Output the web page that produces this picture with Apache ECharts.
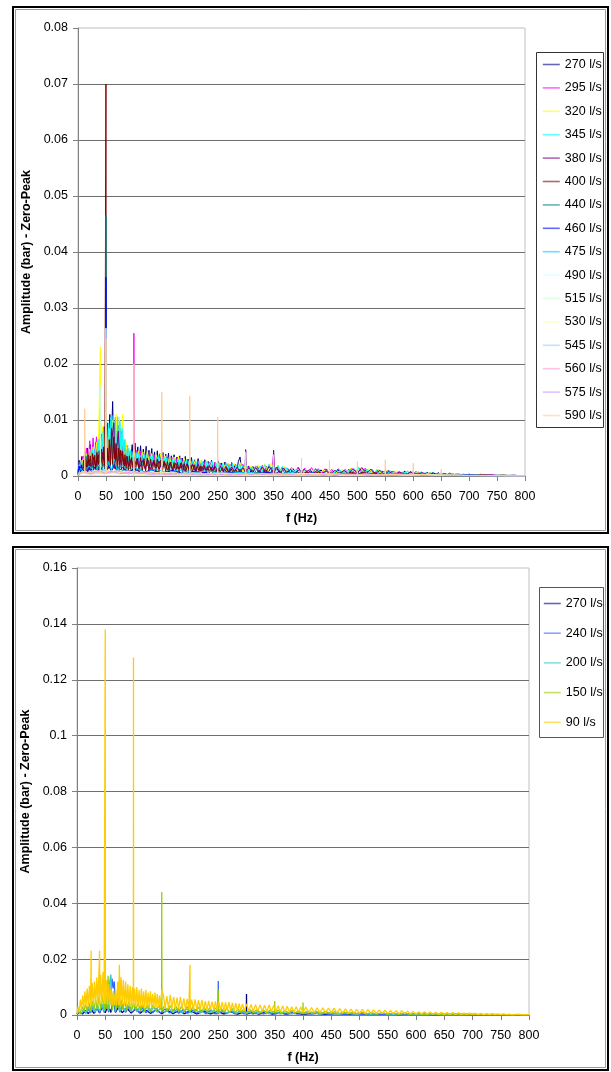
<!DOCTYPE html>
<html>
<head>
<meta charset="utf-8">
<script src="https://cdn.jsdelivr.net/npm/echarts@6/dist/echarts.min.js"></script>
<style>
  html, body { margin: 0; padding: 0; background: #fff; }
  #chart { width: 611px; height: 1072px; }
</style>
</head>
<body>
<div id="chart"></div>
<script>
// spectra: [f (Hz), amplitude in mbar]

// ---- upper chart (270 .. 590 l/s) ----
const upperNames = ['270 l/s', '295 l/s', '320 l/s', '345 l/s', '380 l/s', '400 l/s', '440 l/s', '460 l/s',
  '475 l/s', '490 l/s', '515 l/s', '530 l/s', '545 l/s', '560 l/s', '575 l/s', '590 l/s'];

const up270 = [[0,0.5],[2,2.8],[4,1.2],[7,3.5],[9,1.5],[12,4.2],[14,1.8],[17,5.0],[19,2.0],[22,5.6],[24,2.2],[27,5.2],[29,2.5],[32,6.0],[34,2.4],[37,6.5],[39,2.8],[42,7.5],[44,3.0],[47,8.8],[49,3.2],[52,9.5],[54,3.5],[57,11.0],[59,4.0],[62,13.3],[64,4.2],[67,10.5],[69,3.8],[72,9.0],[74,3.5],[77,8.0],[79,3.0],[82,6.5],[84,2.8],[87,5.5],[89,2.5],[92,5.0],[94,2.4],[97,5.6],[99,2.2],[102,5.9],[104,2.3],[107,5.2],[109,2.2],[112,5.4],[114,2.1],[117,4.8],[119,2.0],[122,5.3],[124,2.0],[127,4.6],[129,1.9],[132,4.9],[134,1.9],[137,4.3],[139,1.8],[142,4.5],[144,1.8],[147,4.0],[149,1.7],[152,4.2],[154,1.7],[157,3.9],[159,1.6],[162,4.1],[164,1.6],[167,3.6],[169,1.5],[172,3.8],[174,1.5],[177,3.4],[179,1.4],[182,3.6],[184,1.4],[187,3.2],[189,1.3],[192,3.5],[194,1.3],[197,3.0],[199,1.2],[203,3.3],[206,1.2],[209,2.9],[212,1.2],[215,3.1],[218,1.1],[221,2.7],[224,1.1],[227,2.9],[230,1.0],[233,2.6],[236,1.0],[239,2.8],[242,1.0],[245,2.4],[248,0.9],[251,2.6],[254,0.9],[257,2.3],[260,0.9],[263,2.5],[266,0.8],[269,2.2],[272,0.8],[275,2.4],[278,0.8],[281,2.1],[284,0.8],[287,2.6],[290,3.4],[293,0.8],[296,1.9],[299,0.8],[300,4.7],[301,0.8],[305,1.8],[309,0.7],[313,1.7],[317,0.7],[321,1.8],[325,0.7],[329,1.6],[333,0.7],[337,1.7],[341,0.7],[345,1.6],[349,0.7],[350,4.6],[351,0.7],[355,1.6],[360,0.6],[365,1.5],[370,0.6],[375,1.4],[380,0.5],[385,1.3],[390,0.5],[395,1.4],[400,0.5],[405,1.3],[410,0.5],[415,1.2],[420,0.5],[425,1.3],[430,0.5],[435,1.1],[440,0.4],[445,1.2],[450,0.4],[455,1.1],[460,0.4],[465,1.2],[470,0.4],[475,1.0],[480,0.4],[485,1.2],[490,0.4],[495,1.1],[500,0.4],[505,1.3],[510,0.4],[515,1.1],[520,0.4],[525,1.0],[530,0.3],[535,1.1],[540,0.3],[545,0.9],[550,0.3],[555,1.0],[560,0.3],[565,0.9],[570,0.3],[575,0.8],[580,0.3],[585,0.9],[590,0.3],[595,0.8],[600,0.3],[605,0.8],[610,0.3],[615,0.7],[620,0.2],[625,0.7],[630,0.2],[635,0.6],[640,0.2],[645,0.6],[650,0.2],[655,0.5],[660,0.2],[665,0.5],[670,0.2],[680,0.4],[690,0.1],[700,0.3],[710,0.1],[720,0.3],[730,0.1],[740,0.2],[750,0.1],[760,0.2],[770,0.1],[780,0.15],[790,0.05],[800,0.1]];
const up295 = [[0,0.5],[3,2.5],[6,1.2],[9,3.5],[12,1.5],[15,5.0],[18,2.0],[21,6.3],[24,2.2],[27,6.8],[30,2.4],[33,7.0],[36,2.5],[39,6.0],[42,2.6],[45,6.5],[48,2.8],[51,7.5],[54,3.0],[57,8.0],[60,3.0],[63,9.0],[66,3.0],[69,7.0],[72,2.8],[75,8.5],[78,2.5],[81,5.5],[84,2.2],[88,4.8],[92,2.0],[96,4.5],[99.5,2.0],[100,25.5],[100.5,2.0],[104,4.6],[108,1.9],[112,4.4],[116,1.8],[120,4.0],[124,1.8],[128,4.2],[132,1.7],[136,3.8],[140,1.7],[144,3.6],[148,1.6],[152,3.7],[156,1.5],[160,3.4],[164,1.5],[168,3.3],[172,1.4],[176,3.1],[180,1.4],[185,3.2],[190,1.3],[195,2.9],[200,1.3],[205,2.8],[210,1.2],[215,2.7],[220,1.1],[225,2.6],[230,1.1],[235,2.5],[240,1.0],[245,2.4],[250,1.0],[255,2.3],[260,0.9],[265,2.2],[270,0.9],[275,2.3],[280,0.8],[285,2.0],[290,0.8],[295,2.1],[299.5,0.8],[300,4.5],[300.5,0.8],[306,1.7],[312,0.7],[318,1.8],[324,0.7],[330,1.9],[336,0.7],[342,2.0],[348,0.7],[350,4.0],[352,0.7],[358,1.8],[364,0.6],[370,1.6],[376,0.6],[382,1.5],[388,0.5],[394,1.6],[400,0.5],[406,1.4],[412,0.5],[418,1.5],[424,0.5],[430,1.3],[436,0.4],[442,1.3],[448,0.4],[454,1.2],[460,0.4],[466,1.3],[472,0.4],[478,1.2],[484,0.4],[490,1.4],[496,0.5],[502,1.5],[508,0.5],[514,1.4],[520,0.4],[526,1.2],[532,0.4],[538,1.1],[544,0.4],[550,1.0],[556,0.3],[562,0.9],[568,0.3],[574,0.9],[580,0.3],[590,0.8],[600,0.3],[610,0.7],[620,0.2],[630,0.6],[640,0.2],[650,0.5],[660,0.2],[670,0.4],[680,0.1],[700,0.3],[720,0.1],[740,0.2],[760,0.05],[780,0.1],[800,0.03]];
const up320 = [[0,0.4],[3,2.0],[6,1.0],[9,3.0],[12,1.4],[15,4.0],[18,1.8],[21,4.8],[24,2.0],[27,5.2],[30,2.2],[33,6.0],[36,2.4],[39.5,2.5],[40,23.0],[40.5,2.6],[44,9.0],[47,2.8],[50,12.0],[53,3.0],[56,8.5],[59,3.0],[62,10.0],[65,3.2],[68,11.0],[71,3.0],[74,10.5],[77,3.0],[80,11.0],[83,2.6],[86,6.0],[89,2.3],[92,5.0],[96,2.1],[100,4.8],[104,2.0],[108,4.5],[112,1.9],[116,4.3],[120,1.8],[124,4.6],[128,1.7],[132,4.0],[136,1.7],[140,3.8],[144,1.6],[148,4.0],[152,1.6],[156,3.6],[160,1.5],[164,3.5],[168,1.5],[172,3.4],[176,1.4],[180,3.5],[185,1.4],[190,3.2],[195,1.3],[200,3.0],[205,1.2],[210,2.9],[215,1.2],[220,2.8],[225,1.1],[230,2.7],[235,1.1],[240,2.6],[245,1.0],[250,2.5],[255,1.0],[260,2.4],[265,0.9],[270,2.3],[275,0.9],[280,2.2],[285,0.8],[290,2.4],[295,0.8],[300,2.0],[305,0.8],[310,1.9],[316,0.7],[322,2.0],[328,0.7],[334,2.2],[340,0.8],[346,2.3],[352,0.8],[358,2.0],[364,0.7],[370,1.7],[376,0.6],[382,1.4],[388,0.6],[394,1.2],[400,0.5],[408,1.2],[416,0.5],[424,1.1],[432,0.5],[440,1.1],[448,0.5],[456,1.2],[464,0.5],[472,1.2],[480,0.5],[488,1.4],[496,0.6],[504,1.6],[512,0.6],[520,1.3],[528,0.5],[536,1.1],[544,0.4],[552,1.0],[560,0.4],[570,0.9],[580,0.4],[590,0.9],[600,0.3],[610,0.8],[620,0.3],[630,0.6],[640,0.2],[650,0.5],[660,0.2],[680,0.4],[700,0.1],[720,0.25],[740,0.1],[760,0.15],[780,0.05],[800,0.05]];
const up345 = [[0,0.3],[2,2.0],[4,1.0],[6,2.8],[8,1.2],[11,3.4],[13,1.4],[16,3.8],[18,1.5],[21,4.3],[23,1.6],[26,4.8],[28,1.8],[31,5.0],[33,2.0],[36,6.5],[38,2.2],[40,12.0],[42,2.5],[45,8.0],[47,2.5],[50,8.5],[52,2.8],[55,9.5],[57,3.0],[59,10.5],[61,3.2],[63,10.8],[65,3.2],[67,10.2],[69,3.0],[71,10.6],[73,3.0],[75,9.8],[77,2.8],[79,8.5],[81,2.6],[84,6.5],[86,2.4],[89,5.5],[91,2.2],[94,4.6],[96,2.0],[99,4.4],[101,2.0],[104,4.2],[106,1.9],[109,4.0],[111,1.9],[114,4.1],[116,1.8],[119,3.8],[121,1.8],[124,3.9],[126,1.7],[129,3.6],[131,1.7],[134,3.7],[136,1.6],[139,3.5],[141,1.6],[144,3.6],[146,1.5],[149,3.3],[151,1.5],[154,3.4],[156,1.5],[159,3.2],[161,1.4],[164,3.3],[166,1.4],[169,3.0],[171,1.4],[174,3.1],[176,1.3],[179,2.9],[181,1.3],[184,3.0],[186,1.3],[189,2.8],[191,1.2],[194,2.9],[196,1.2],[199,2.7],[202,1.2],[205,2.8],[208,1.1],[211,2.6],[214,1.1],[217,2.7],[220,1.1],[223,2.5],[226,1.0],[229,2.6],[232,1.0],[235,2.4],[238,1.0],[241,2.5],[244,1.0],[247,2.3],[250,0.9],[253,2.4],[256,0.9],[259,2.2],[262,0.9],[265,2.3],[268,0.9],[271,2.1],[274,0.9],[277,2.2],[280,0.8],[283,2.0],[286,0.8],[289,2.1],[292,0.8],[295,1.9],[298,0.8],[302,1.7],[306,0.7],[310,1.6],[314,0.7],[318,1.7],[322,0.8],[326,1.8],[330,0.8],[334,2.0],[338,0.8],[342,2.1],[346,0.8],[350,2.0],[354,0.8],[358,1.9],[362,0.7],[366,1.7],[370,0.7],[374,1.5],[378,0.6],[382,1.3],[386,0.6],[390,1.2],[394,0.5],[398,1.1],[402,0.5],[406,1.0],[410,0.5],[414,1.1],[418,0.5],[422,1.0],[426,0.5],[430,1.0],[434,0.5],[438,0.9],[442,0.5],[446,1.0],[450,0.5],[454,0.9],[458,0.5],[462,1.0],[466,0.5],[470,1.0],[474,0.5],[478,1.1],[482,0.5],[486,1.2],[490,0.6],[494,1.3],[498,0.6],[502,1.4],[506,0.6],[510,1.3],[514,0.5],[518,1.2],[522,0.5],[526,1.1],[530,0.5],[534,1.0],[538,0.5],[542,1.0],[546,0.4],[550,0.9],[554,0.4],[558,1.0],[562,0.4],[566,0.9],[570,0.4],[574,0.9],[578,0.4],[582,0.8],[586,0.4],[590,0.9],[594,0.4],[598,0.8],[602,0.3],[606,0.8],[610,0.3],[614,0.7],[618,0.3],[622,0.7],[626,0.3],[630,0.6],[634,0.3],[638,0.6],[642,0.2],[646,0.5],[650,0.2],[655,0.4],[660,0.2],[665,0.4],[670,0.1],[675,0.3],[680,0.1],[690,0.3],[700,0.1],[710,0.2],[720,0.1],[730,0.2],[740,0.05],[750,0.15],[760,0.05],[770,0.1],[780,0.05],[790,0.08],[800,0.03]];
const up380 = [[0,0.3],[4,1.5],[8,0.8],[12,2.5],[16,1.0],[20,3.0],[24,1.2],[28,3.4],[32,1.4],[36,3.8],[40,1.5],[44,4.2],[48,1.6],[52,5.0],[56,1.8],[60,6.0],[64,9.5],[66,2.0],[70,5.5],[72,8.0],[75,2.0],[79,4.5],[83,1.8],[87,3.5],[91,1.6],[95,3.0],[100,1.4],[105,3.0],[110,1.3],[115,2.8],[120,1.3],[125,2.9],[130,1.2],[135,2.6],[140,1.2],[145,2.7],[150,1.1],[155,2.5],[160,1.1],[165,2.4],[170,1.0],[175,2.3],[180,1.0],[185,2.4],[190,0.9],[195,2.2],[200,0.9],[205,2.1],[210,0.9],[215,2.2],[220,0.8],[225,2.0],[230,0.8],[235,1.9],[240,0.8],[245,1.8],[250,0.7],[255,1.8],[260,0.7],[265,1.7],[270,0.7],[275,1.6],[280,0.7],[285,1.6],[290,0.6],[295,1.5],[300,0.6],[306,1.5],[312,0.6],[318,1.5],[324,0.6],[330,1.6],[336,0.6],[342,1.7],[349.5,0.6],[350,4.5],[350.5,0.6],[356,1.6],[362,0.5],[368,1.4],[374,0.5],[380,1.2],[388,0.5],[396,1.1],[404,0.4],[412,1.0],[420,0.4],[428,1.0],[436,0.4],[444,0.9],[452,0.4],[460,1.0],[468,0.4],[476,1.0],[484,0.4],[492,1.3],[500,0.5],[508,1.5],[516,0.5],[524,1.2],[532,0.4],[540,1.0],[548,0.3],[556,0.8],[566,0.3],[576,0.7],[586,0.3],[596,0.7],[606,0.2],[616,0.6],[626,0.2],[636,0.5],[646,0.2],[656,0.4],[670,0.1],[690,0.3],[710,0.1],[730,0.2],[750,0.05],[770,0.1],[800,0.03]];
const up400 = [[0,0.2],[2,1.2],[4,0.5],[6,1.8],[8,0.7],[10,2.8],[12,0.8],[14,3.5],[16,0.9],[18,3.8],[20,1.0],[22,3.6],[24,1.0],[26,4.0],[28,1.0],[30,3.7],[32,1.1],[34,4.2],[36,1.1],[38,4.5],[40,1.2],[42,4.8],[44,1.2],[46,5.2],[48,1.3],[49.5,1.3],[50,70.0],[50.5,1.3],[52,5.0],[54,1.3],[56,6.5],[58,1.4],[60,8.5],[62,1.4],[64,7.0],[66,1.3],[68,5.8],[70,1.3],[72,5.0],[74,1.2],[76,4.6],[78,1.2],[80,4.2],[82,1.1],[84,3.8],[86,1.1],[88,3.5],[90,1.0],[92,3.6],[94,1.0],[96,3.3],[98,1.0],[100,3.4],[103,1.0],[106,3.2],[109,0.9],[112,3.3],[115,0.9],[118,3.1],[121,0.9],[124,3.2],[127,0.9],[130,3.0],[133,0.9],[136,2.9],[139,0.8],[142,3.0],[145,0.8],[148,2.8],[151,0.8],[154,2.7],[157,0.8],[160,2.6],[163,0.8],[166,2.5],[169,0.8],[172,2.4],[175,0.7],[178,2.4],[181,0.7],[184,2.3],[187,0.7],[190,2.2],[193,0.7],[196,2.1],[199,0.7],[202,2.0],[205,0.7],[208,2.0],[211,0.6],[214,1.9],[217,0.6],[220,1.8],[223,0.6],[226,1.8],[229,0.6],[232,1.7],[235,0.6],[238,1.6],[241,0.6],[244,1.6],[247,0.5],[250,1.5],[254,0.5],[258,1.4],[262,0.5],[266,1.4],[270,0.5],[274,1.3],[278,0.5],[282,1.2],[286,0.5],[290,1.2],[295,0.4],[300,1.1],[306,0.4],[312,1.0],[318,0.4],[324,1.0],[330,0.4],[336,1.1],[342,0.4],[348,1.0],[354,0.4],[360,0.9],[368,0.3],[376,0.9],[384,0.3],[392,0.8],[400,0.3],[410,0.7],[420,0.3],[430,0.7],[440,0.3],[450,0.6],[460,0.3],[470,0.6],[480,0.3],[490,0.7],[500,0.3],[510,0.7],[520,0.3],[530,0.6],[540,0.2],[550,0.5],[560,0.2],[575,0.5],[590,0.2],[605,0.4],[620,0.2],[635,0.3],[650,0.1],[670,0.25],[690,0.1],[720,0.15],[750,0.05],[780,0.08],[800,0.02]];
const up440 = [[0,0.2],[5,1.2],[10,0.6],[15,1.6],[20,0.7],[25,1.8],[30,0.8],[35,2.0],[40,0.8],[45,2.2],[49.5,0.9],[50,46.6],[50.5,0.9],[55,2.2],[60,0.9],[65,2.4],[70,0.8],[75,2.0],[80,0.8],[90,1.6],[100,0.7],[110,1.4],[120,0.6],[135,1.2],[150,0.5],[165,1.1],[180,0.5],[200,1.0],[220,0.4],[240,0.9],[260,0.4],[280,0.8],[300,0.3],[330,0.7],[360,0.3],[400,0.5],[440,0.2],[480,0.5],[520,0.2],[560,0.4],[600,0.15],[650,0.3],[700,0.1],[750,0.1],[800,0.02]];
const up460 = [[0,0.5],[2,1.8],[4,0.8],[6,2.0],[8,0.6],[12,1.4],[16,0.6],[20,1.5],[25,0.6],[30,1.6],[35,0.7],[40,1.8],[45,0.7],[49.5,0.8],[50,35.5],[50.5,0.8],[55,1.8],[60,0.7],[65,2.0],[70,0.7],[80,1.5],[90,0.6],[100,1.3],[115,0.5],[130,1.1],[150,0.5],[170,1.0],[190,0.4],[210,0.9],[240,0.4],[270,0.7],[300,0.3],[340,0.6],[380,0.3],[420,0.5],[460,0.2],[500,0.5],[540,0.2],[580,0.4],[620,0.1],[670,0.25],[720,0.1],[800,0.02]];
const up475 = [[0,0.3],[5,1.4],[10,0.6],[20,1.8],[30,0.8],[40,2.4],[45,1.0],[49.5,1.0],[50,20.0],[50.5,1.0],[55,2.6],[60,1.0],[65,3.0],[70,1.0],[80,2.0],[90,0.8],[100,1.6],[120,0.6],[140,1.3],[160,0.5],[180,1.1],[200,0.5],[230,0.9],[260,0.4],[300,0.7],[340,0.3],[380,0.6],[420,0.3],[470,0.5],[520,0.2],[570,0.4],[620,0.1],[680,0.2],[740,0.05],[800,0.02]];
const up490 = [[0,0.2],[10,0.8],[20,0.4],[30,1.0],[40,0.5],[49.5,0.5],[50,26.4],[50.5,0.5],[60,1.0],[70,0.5],[90,0.8],[120,0.4],[160,0.6],[200,0.3],[260,0.5],[320,0.2],[400,0.4],[480,0.2],[560,0.3],[650,0.1],[800,0.02]];
const up515 = [[0,0.2],[10,0.8],[20,0.4],[30,1.0],[39.5,0.5],[40,16.0],[40.5,0.5],[50,1.0],[60,0.5],[75,0.9],[100,0.4],[140,0.6],[200,0.3],[260,0.5],[330,0.2],[420,0.4],[500,0.2],[580,0.3],[680,0.1],[800,0.02]];
const up530 = [[0,0.2],[10,0.7],[20,0.3],[30,0.9],[40,0.4],[50,1.0],[60,0.4],[80,0.8],[110,0.3],[150,0.6],[200,0.3],[260,0.5],[330,0.2],[420,0.4],[500,0.2],[600,0.3],[700,0.1],[800,0.02]];
const up545 = [[0,0.2],[8,0.9],[16,0.4],[26,1.0],[36,0.4],[46,1.1],[56,0.5],[70,1.0],[90,0.4],[120,0.7],[160,0.3],[210,0.5],[270,0.2],[340,0.4],[420,0.2],[510,0.3],[600,0.1],[700,0.1],[800,0.02]];
const up560 = [[0,0.2],[10,0.8],[20,0.4],[35,1.0],[50,0.5],[70,0.9],[90,0.4],[120,0.6],[160,0.3],[210,0.5],[270,0.2],[340,0.4],[430,0.2],[520,0.3],[620,0.1],[720,0.1],[800,0.02]];
const up575 = [[0,0.2],[12,0.8],[24,0.3],[36,0.9],[48,0.4],[60,0.9],[75,0.4],[95,0.7],[130,0.3],[170,0.5],[220,0.2],[290,0.4],[370,0.2],[460,0.3],[560,0.1],[680,0.1],[800,0.02]];
const up590 = [[0,0.2],[3,0.8],[6,0.3],[9,0.9],[11.5,0.4],[12,12.0],[12.5,0.4],[15,0.9],[18,0.3],[21,1.0],[24,0.4],[27,0.9],[30,0.3],[33,1.0],[36,0.4],[39,0.9],[42,0.4],[45,1.0],[49.5,0.4],[50,24.5],[50.5,0.4],[54,1.0],[58,0.4],[62,1.0],[66,0.4],[70,0.9],[74,0.4],[78,0.9],[82,0.3],[86,0.9],[90,0.3],[94,0.8],[99.5,0.3],[100,20.0],[100.5,0.3],[105,0.8],[110,0.3],[115,0.8],[120,0.3],[125,0.7],[130,0.3],[135,0.8],[140,0.3],[145,0.7],[149.5,0.3],[150,15.0],[150.5,0.3],[155,0.7],[160,0.3],[165,0.7],[170,0.3],[175,0.7],[180,0.3],[185,0.6],[190,0.3],[195,0.6],[199.5,0.3],[200,14.3],[200.5,0.3],[205,0.6],[212,0.2],[219,0.6],[226,0.2],[233,0.6],[240,0.2],[245,0.5],[249.5,0.2],[250,10.5],[250.5,0.2],[256,0.5],[264,0.2],[272,0.5],[280,0.2],[288,0.5],[299.5,0.2],[300,4.2],[300.5,0.2],[310,0.5],[320,0.2],[330,0.5],[340,0.2],[349.5,0.2],[350,3.8],[350.5,0.2],[360,0.4],[370,0.2],[380,0.4],[399.5,0.2],[400,3.2],[400.5,0.2],[410,0.4],[425,0.2],[440,0.4],[449.5,0.2],[450,2.8],[450.5,0.2],[465,0.4],[480,0.2],[499.5,0.2],[500,2.6],[500.5,0.2],[515,0.4],[530,0.2],[549.5,0.2],[550,2.9],[550.5,0.2],[565,0.3],[580,0.1],[599.5,0.1],[600,2.3],[600.5,0.1],[620,0.3],[635,0.1],[649.5,0.1],[650,1.2],[650.5,0.1],[675,0.2],[700,0.05],[730,0.1],[760,0.05],[800,0.02]];

// ---- lower chart (270 .. 90 l/s) ----
const lowerNames = ['270 l/s', '240 l/s', '200 l/s', '150 l/s', '90 l/s'];

const lo270 = [[0,0.3],[5,1.0],[10,0.4],[15,1.5],[20,0.5],[25,2.0],[30,0.6],[35,2.5],[40,0.7],[45,3.0],[50,0.8],[55,3.5],[60,0.9],[64,6.0],[68,0.9],[74,3.0],[80,0.8],[88,2.5],[96,0.7],[104,2.2],[112,0.6],[120,2.0],[130,0.6],[140,1.8],[150,0.5],[160,1.7],[170,0.5],[180,1.6],[190,0.5],[200,1.5],[212,0.4],[224,1.4],[236,0.4],[248,1.3],[260,0.4],[272,1.2],[284,0.3],[296,1.1],[299.8,0.3],[300,7.5],[300.2,0.3],[310,1.0],[322,0.3],[334,1.0],[346,0.3],[358,0.9],[370,0.3],[385,0.8],[400,0.2],[420,0.7],[440,0.2],[460,0.6],[480,0.2],[500,0.6],[520,0.2],[545,0.5],[570,0.1],[600,0.4],[630,0.1],[670,0.3],[710,0.1],[760,0.1],[800,0.02]];
const lo240 = [[0,0.3],[4,1.2],[8,0.5],[12,1.8],[16,0.6],[20,2.2],[24,0.7],[28,2.6],[32,0.8],[36,3.0],[40,0.9],[44,3.4],[48,1.0],[52,3.8],[56,1.0],[60,8.0],[62,13.0],[64,9.5],[66,12.0],[68,1.1],[72,4.0],[76,1.0],[80,3.4],[86,0.9],[92,3.0],[98,0.9],[104,2.8],[110,0.8],[116,2.6],[122,0.8],[128,2.4],[134,0.8],[140,2.3],[148,0.7],[156,2.2],[164,0.7],[172,2.0],[180,0.6],[188,1.9],[196,0.6],[204,1.8],[212,0.6],[220,1.7],[228,0.5],[236,1.6],[244,0.5],[249.8,0.5],[250,12.2],[250.2,0.5],[256,1.5],[264,0.5],[272,1.4],[280,0.4],[288,1.3],[296,0.4],[304,1.2],[312,0.4],[320,1.2],[330,0.4],[340,1.1],[350,0.3],[360,1.0],[370,0.3],[380,1.0],[390,0.3],[400,0.9],[415,0.3],[430,0.8],[445,0.2],[460,0.7],[475,0.2],[490,0.7],[505,0.2],[520,0.6],[540,0.2],[560,0.5],[580,0.1],[600,0.4],[630,0.1],[660,0.3],[700,0.1],[750,0.1],[800,0.02]];
const lo200 = [[0,0.3],[4,1.5],[8,0.6],[12,2.2],[16,0.8],[20,2.8],[24,1.0],[28,3.2],[32,1.1],[36,3.6],[40,1.2],[44,4.0],[48,1.3],[52,4.8],[56,1.4],[58,12.0],[60,14.5],[62,1.5],[65,8.5],[68,1.4],[72,5.0],[76,1.3],[80,4.2],[85,1.2],[90,3.8],[95,1.2],[100,3.5],[106,1.1],[112,3.2],[118,1.0],[124,3.0],[130,1.0],[136,2.8],[142,0.9],[148,2.6],[155,0.9],[162,2.5],[170,0.8],[178,2.3],[186,0.8],[194,2.2],[202,0.7],[210,2.0],[218,0.7],[226,1.9],[234,0.7],[242,1.8],[250,0.6],[258,1.7],[266,0.6],[274,1.6],[282,0.6],[290,1.5],[300,0.5],[310,1.4],[320,0.5],[330,1.3],[340,0.5],[350,1.3],[360,0.4],[370,1.2],[380,0.4],[390,1.1],[400,0.4],[415,1.0],[430,0.3],[445,0.9],[460,0.3],[475,0.8],[490,0.3],[505,0.8],[520,0.2],[540,0.7],[560,0.2],[580,0.6],[600,0.2],[625,0.4],[650,0.1],[680,0.3],[710,0.1],[750,0.1],[800,0.02]];
const lo150 = [[0,0.3],[3,2.0],[6,0.8],[9,3.0],[12,1.2],[15,3.8],[18,1.5],[21,4.5],[24,1.6],[27,5.0],[30,1.8],[33,5.5],[36,1.9],[39,6.5],[42,2.0],[45,7.0],[48,2.1],[51,8.0],[53,2.2],[55,14.0],[57,2.2],[60,9.0],[63,2.1],[66,7.0],[69,2.0],[72,6.0],[75,2.0],[78,5.5],[81,1.9],[84,5.0],[88,1.8],[92,4.8],[96,1.7],[100,4.5],[104,1.7],[108,4.3],[112,1.6],[116,4.0],[120,1.6],[125,3.8],[130,1.5],[135,3.7],[140,1.5],[145,3.5],[149.8,1.5],[150,44.0],[150.1,33.0],[150.3,1.5],[155,3.4],[160,1.4],[165,3.3],[170,1.4],[175,3.2],[180,1.3],[185,3.1],[190,1.3],[195,3.0],[200,1.2],[205,2.9],[210,1.2],[215,2.8],[220,1.1],[225,2.7],[230,1.1],[235,2.6],[240,1.0],[245,2.6],[249.8,1.0],[250,9.0],[250.2,1.0],[255,2.5],[260,1.0],[265,2.4],[270,0.9],[275,2.3],[280,0.9],[285,2.2],[290,0.9],[295,2.1],[300,0.8],[306,2.0],[312,0.8],[318,1.9],[324,0.8],[330,1.8],[336,0.7],[342,1.8],[349.8,0.7],[350,5.0],[350.2,0.7],[356,1.7],[362,0.7],[368,1.6],[374,0.6],[380,1.6],[386,0.6],[392,1.5],[399.8,0.6],[400,4.5],[400.2,0.6],[408,1.4],[416,0.5],[424,1.3],[432,0.5],[440,1.3],[448,0.5],[456,1.2],[464,0.4],[472,1.1],[480,0.4],[488,1.0],[496,0.4],[504,1.0],[512,0.3],[520,0.9],[530,0.3],[540,0.8],[550,0.3],[560,0.7],[570,0.2],[580,0.7],[590,0.2],[600,0.6],[615,0.2],[630,0.5],[645,0.1],[660,0.4],[680,0.1],[700,0.3],[720,0.1],[740,0.2],[760,0.05],[780,0.1],[800,0.02]];
const lo90 = [[0,0.5],[2,3.0],[4,1.0],[6,5.5],[8,2.0],[10,7.0],[12,2.5],[14,8.5],[16,3.0],[18,9.5],[20,3.2],[22,10.5],[24,3.5],[24.8,3.5],[25,23.0],[25.2,3.5],[27,11.5],[29,3.6],[31,12.0],[33,3.8],[35,13.5],[37,3.8],[39.8,4.0],[40,23.0],[40.2,4.0],[42,14.5],[44,4.0],[46,15.5],[48,4.0],[49.8,4.0],[50,138.0],[50.1,92.0],[50.3,4.0],[52,12.5],[54,3.8],[56,11.0],[58,3.5],[60,9.5],[62,3.4],[64,8.5],[66,3.4],[68,9.0],[70,3.5],[72,12.0],[74,3.6],[75,18.0],[76,3.6],[78,13.5],[80,3.5],[82,12.5],[84,3.4],[86,12.0],[88,3.3],[90,11.0],[92,3.2],[94,10.5],[96,3.1],[98,10.0],[99.8,3.0],[100,128.0],[100.2,3.0],[102,9.5],[104,3.0],[106,10.0],[108,2.9],[110,9.0],[112,2.9],[114,9.5],[116,2.8],[118,8.5],[120,2.8],[122,9.0],[124,2.7],[126,8.0],[128,2.7],[130,8.5],[132,2.6],[134,7.5],[136,2.6],[138,8.0],[140,2.5],[142,7.5],[144,2.5],[146,7.0],[148,2.5],[150,9.0],[153,7.0],[156,2.4],[159,6.8],[162,2.4],[165,7.2],[168,2.3],[171,6.5],[174,2.3],[177,6.2],[180,2.2],[183,6.5],[186,2.2],[189,6.0],[192,2.1],[195,5.8],[198,2.1],[199.8,2.1],[200,18.0],[200.2,2.0],[203,5.5],[206,2.0],[209,5.6],[212,2.0],[215,5.3],[218,1.9],[221,5.4],[224,1.9],[227,5.0],[230,1.8],[233,5.1],[236,1.8],[239,4.8],[242,1.8],[245,4.9],[248,1.7],[251,4.7],[254,1.7],[257,4.6],[260,1.6],[263,4.5],[266,1.6],[269,4.6],[272,1.6],[275,4.3],[278,1.5],[281,4.2],[284,1.5],[287,4.1],[290,1.5],[293,4.0],[296,1.4],[300,4.0],[304,1.4],[308,3.8],[312,1.3],[316,3.7],[320,1.3],[324,3.6],[328,1.3],[332,3.5],[336,1.2],[340,3.6],[344,1.2],[348,3.4],[352,1.2],[356,3.3],[360,1.1],[364,3.2],[368,1.1],[372,3.1],[376,1.0],[380,3.0],[384,1.0],[388,3.0],[392,1.0],[396,2.9],[400,0.9],[405,2.8],[410,0.9],[415,2.7],[420,0.9],[425,2.6],[430,0.8],[435,2.6],[440,0.8],[445,2.5],[450,0.8],[455,2.4],[460,0.7],[465,2.3],[470,0.7],[475,2.2],[480,0.7],[485,2.1],[490,0.6],[495,2.0],[500,0.6],[505,2.0],[510,0.6],[515,1.9],[520,0.5],[525,1.8],[530,0.5],[535,1.8],[540,0.5],[545,1.7],[550,0.5],[555,1.6],[560,0.4],[565,1.5],[570,0.4],[575,1.5],[580,0.4],[585,1.4],[590,0.4],[595,1.3],[600,0.3],[605,1.2],[610,0.3],[615,1.2],[620,0.3],[625,1.1],[630,0.3],[635,1.0],[640,0.3],[645,1.0],[650,0.2],[655,0.9],[660,0.2],[665,0.9],[670,0.2],[675,0.8],[680,0.2],[685,0.7],[690,0.2],[695,0.7],[700,0.2],[705,0.6],[710,0.1],[715,0.6],[720,0.1],[725,0.5],[730,0.1],[735,0.5],[740,0.1],[745,0.4],[750,0.1],[755,0.4],[760,0.1],[765,0.3],[770,0.05],[780,0.3],[790,0.05],[800,0.1]];

const upperData = [up270, up295, up320, up345, up380, up400, up440, up460, up475, up490, up515, up530, up545, up560, up575, up590];
const lowerData = [lo270, lo240, lo200, lo150, lo90];

const upperColors = ['#000080', '#FF00FF', '#FFFF00', '#00FFFF', '#800080', '#800000', '#008080', '#0000FF',
  '#00CCFF', '#CCFFFF', '#CCFFCC', '#FFFF99', '#99CCFF', '#FF99CC', '#CC99FF', '#FFCC99'];
const lowerColors = ['#000080', '#3366FF', '#33CCCC', '#99CC00', '#FFCC00'];

const FONT = 'Liberation Sans';
const labelFmt = (v) => String(+v.toFixed(2));

function buildSeries(list, names, colors, idx, width) {
  return list.map((pts, i) => ({
    name: names[i],
    type: 'line',
    xAxisIndex: idx,
    yAxisIndex: idx,
    data: pts.map(([f, a]) => [f, a / 1000]),
    symbol: 'none',
    silent: true,
    lineStyle: { width: width, color: colors[i] },
    itemStyle: { color: colors[i] }
  }));
}

function xAxisOpt(idx) {
  return {
    type: 'value', gridIndex: idx, min: 0, max: 800, interval: 50,
    name: 'f (Hz)', nameLocation: 'middle', nameGap: 36,
    nameTextStyle: { fontFamily: FONT, fontSize: 12.5, fontWeight: 'bold', color: '#000' },
    axisLine: { show: true, lineStyle: { color: '#808080', width: 1 } },
    axisTick: { show: true, length: 5, lineStyle: { color: '#808080' } },
    axisLabel: { fontFamily: FONT, fontSize: 12.5, color: '#000', margin: 14 },
    splitLine: { show: false }
  };
}

function yAxisOpt(idx, max, step) {
  return {
    type: 'value', gridIndex: idx, min: 0, max: max, interval: step,
    name: 'Amplitude (bar) - Zero-Peak', nameLocation: 'middle', nameGap: 35,
    nameTextStyle: { fontFamily: FONT, fontSize: 12.5, fontWeight: 'bold', color: '#000' },
    axisLine: { show: true, lineStyle: { color: '#808080', width: 1 } },
    axisTick: { show: true, length: 5, lineStyle: { color: '#808080' } },
    axisLabel: { fontFamily: FONT, fontSize: 12.5, color: '#000', margin: 10, formatter: labelFmt },
    splitLine: { show: true, showMaxLine: false, lineStyle: { color: '#6e6e6e', width: 1 } }
  };
}

function legendOpt(names, left, top, padding, gap) {
  return {
    orient: 'vertical', left: left, top: top, padding: padding,
    itemWidth: 17, itemHeight: 12, itemGap: gap,
    data: names, selectedMode: false,
    itemStyle: { opacity: 0 },
    lineStyle: { width: 1.6, opacity: 0.6 },
    textStyle: { fontFamily: FONT, fontSize: 12.5, color: '#000' }
  };
}

const chart = echarts.init(document.getElementById('chart'));
chart.setOption({
  animation: false,
  backgroundColor: '#fff',
  grid: [
    { left: 78, top: 28, width: 447, height: 448, show: true, borderColor: '#c0c0c0', borderWidth: 1 },
    { left: 77, top: 568, width: 452, height: 447, show: true, borderColor: '#c0c0c0', borderWidth: 1 }
  ],
  xAxis: [xAxisOpt(0), xAxisOpt(1)],
  yAxis: [yAxisOpt(0, 0.08, 0.01), yAxisOpt(1, 0.16, 0.02)],
  legend: [
    legendOpt(upperNames, 536, 52, [6, 4, 6, 6], 10.4),
    legendOpt(lowerNames, 539, 587, [10, 4, 10, 4], 16.7)
  ],
  graphic: [
    { type: 'rect', shape: { x: 13, y: 7, width: 595, height: 526 }, style: { fill: null, stroke: '#000', lineWidth: 2 }, silent: true },
    { type: 'rect', shape: { x: 15.5, y: 9.5, width: 590, height: 521 }, style: { fill: null, stroke: '#999', lineWidth: 1 }, silent: true },
    { type: 'rect', shape: { x: 13, y: 547, width: 595, height: 523 }, style: { fill: null, stroke: '#000', lineWidth: 2 }, silent: true },
    { type: 'rect', shape: { x: 15.5, y: 549.5, width: 590, height: 518 }, style: { fill: null, stroke: '#999', lineWidth: 1 }, silent: true },
    { type: 'rect', shape: { x: 536.5, y: 52.5, width: 67, height: 375 }, style: { fill: null, stroke: '#333', lineWidth: 1 }, silent: true },
    { type: 'rect', shape: { x: 539.5, y: 587.5, width: 64, height: 150 }, style: { fill: null, stroke: '#555', lineWidth: 1 }, silent: true }
  ],
  series: buildSeries(upperData, upperNames, upperColors, 0, 1)
    .concat(buildSeries(lowerData, lowerNames, lowerColors, 1, 1.3))
});
</script>
</body>
</html>
